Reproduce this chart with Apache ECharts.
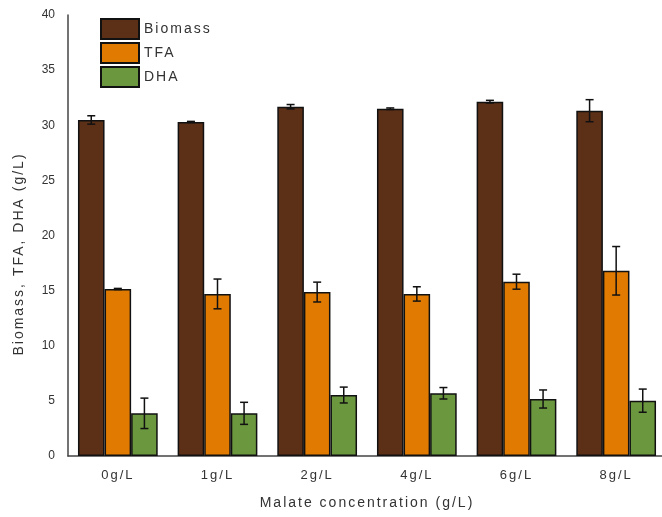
<!DOCTYPE html>
<html>
<head>
<meta charset="utf-8">
<script src="https://cdn.jsdelivr.net/npm/echarts@6/dist/echarts.min.js"></script>
<style>
html,body{margin:0;padding:0;background:#fff;}
#chart{width:662px;height:517px;}
</style>
</head>
<body>
<div id="chart"></div>
<script>
// ---- data ----
const categories = ['0g/L', '1g/L', '2g/L', '4g/L', '6g/L', '8g/L'];
const seriesNames = ['Biomass', 'TFA', 'DHA'];
const biomass    = [30.48, 30.30, 31.68, 31.50, 32.14, 31.32];
const biomassErr = [0.38, 0.05, 0.20, 0.07, 0.12, 1.00];
const tfa        = [15.15, 14.70, 14.87, 14.70, 15.81, 16.80];
const tfaErr     = [0.05, 1.35, 0.90, 0.65, 0.68, 2.20];
const dha        = [3.87, 3.87, 5.53, 5.69, 5.17, 5.02];
const dhaErr     = [1.38, 1.00, 0.72, 0.52, 0.82, 1.05];
const yTicks = { min: 0, max: 40, interval: 5 };

// ---- letter spacing for the larger (title/legend/category) text ----
(function(){
  const proto = CanvasRenderingContext2D.prototype;
  const orig = proto.fillText;
  proto.fillText = function(t, x, y, m){
    const mt = /(\d+(?:\.\d+)?)px/.exec(this.font || '');
    const fs = mt ? parseFloat(mt[1]) : 12;
    if ('letterSpacing' in this) this.letterSpacing = fs >= 13 ? '2px' : '0px';
    return m === undefined ? orig.call(this, t, x, y) : orig.call(this, t, x, y, m);
  };
})();

const colors = ['#5c2f17', '#e07a00', '#6b973e'];
const values = [biomass, tfa, dha];
const errs = [biomassErr, tfaErr, dhaErr];
const CAT_GAP = 0.20;
const FONT = '"Liberation Sans", Arial, sans-serif';

const barSeries = seriesNames.map((n, s) => ({
  name: n,
  type: 'bar',
  data: values[s],
  barGap: '0%',
  barCategoryGap: (CAT_GAP * 100) + '%',
  itemStyle: { color: colors[s], borderColor: '#111', borderWidth: 1.5 },
  emphasis: { disabled: true },
  z: 2
}));

const errSeries = seriesNames.map((n, s) => ({
  type: 'custom',
  name: n + ' err',
  z: 5,
  silent: true,
  data: values[s].map((v, i) => [i, v, errs[s][i]]),
  renderItem: function(params, api){
    const i = api.value(0), v = api.value(1), e = api.value(2);
    const band = api.size([1, 0])[0];
    const bw = band * (1 - CAT_GAP) / 3;
    const cx = api.coord([i, 0])[0] + (s - 1) * bw;
    const yt = api.coord([i, v + e])[1];
    const yb = api.coord([i, v - e])[1];
    const hw = 4;
    const st = { stroke: '#111', lineWidth: 1.5 };
    return {
      type: 'group',
      children: [
        { type: 'line', shape: { x1: cx, y1: yt, x2: cx, y2: yb }, style: st },
        { type: 'line', shape: { x1: cx - hw, y1: yt, x2: cx + hw, y2: yt }, style: st },
        { type: 'line', shape: { x1: cx - hw, y1: yb, x2: cx + hw, y2: yb }, style: st }
      ]
    };
  }
}));

const chart = echarts.init(document.getElementById('chart'), null, { renderer: 'canvas' });
chart.setOption({
  animation: false,
  backgroundColor: '#fff',
  textStyle: { fontFamily: FONT },
  grid: { left: 68, top: 15, width: 598, height: 441, containLabel: false, outerBoundsMode: 'none' },
  legend: {
    data: seriesNames,
    orient: 'vertical',
    left: 100,
    top: 18,
    itemWidth: 38,
    itemHeight: 20,
    itemGap: 2,
    icon: 'rect',
    padding: 0,
    selectedMode: false,
    textStyle: { fontSize: 14, color: '#333', fontFamily: FONT }
  },
  xAxis: {
    type: 'category',
    data: categories,
    name: 'Malate concentration (g/L)',
    nameLocation: 'middle',
    nameGap: 40,
    nameTextStyle: { fontSize: 14, color: '#333', fontFamily: FONT },
    axisLine: { lineStyle: { color: '#444', width: 1.5 } },
    axisTick: { show: false },
    axisLabel: { fontSize: 13, color: '#333', margin: 13, fontFamily: FONT },
    splitLine: { show: false }
  },
  yAxis: {
    type: 'value',
    min: yTicks.min,
    max: yTicks.max,
    interval: yTicks.interval,
    axisLine: { show: true, lineStyle: { color: '#444', width: 1.5 } },
    axisTick: { show: false },
    axisLabel: { fontSize: 12, color: '#333', margin: 13, fontFamily: FONT },
    splitLine: { show: false }
  },
  graphic: [{
    type: 'text',
    x: 19,
    y: 254,
    rotation: Math.PI / 2,
    style: {
      text: 'Biomass, TFA, DHA (g/L)',
      fontSize: 14,
      fontFamily: FONT,
      fill: '#333',
      align: 'center',
      verticalAlign: 'middle'
    }
  }],
  series: barSeries.concat(errSeries)
});
</script>
</body>
</html>
